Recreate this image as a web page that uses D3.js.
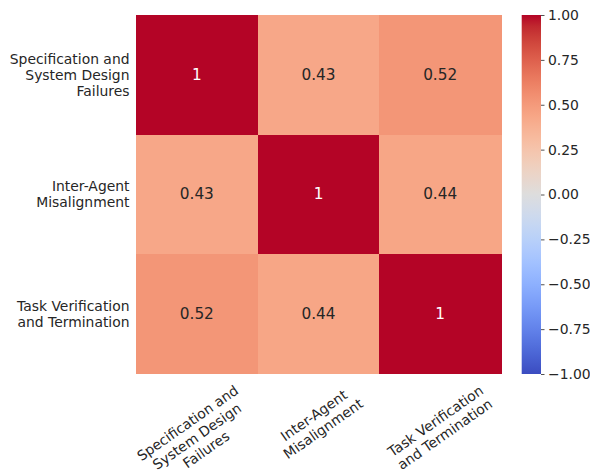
<!DOCTYPE html>
<html>
<head>
<meta charset="utf-8">
<script src="https://cdn.jsdelivr.net/npm/d3@7"></script>
<style>
  html, body { margin: 0; padding: 0; background: #fff; }
  svg { display: block; }
  text { font-family: "DejaVu Sans", sans-serif; }
</style>
</head>
<body>
<svg id="chart" width="590" height="470"></svg>
<script>
// ---- data ----
const categories = [
  "Specification and\nSystem Design\nFailures",
  "Inter-Agent\nMisalignment",
  "Task Verification\nand Termination"
];
const row0 = [1.00, 0.43, 0.52];
const row1 = [0.43, 1.00, 0.44];
const row2 = [0.52, 0.44, 1.00];
const matrix = [row0, row1, row2];
const cbarTicks = [1.00, 0.75, 0.50, 0.25, 0.00, -0.25, -0.50, -0.75, -1.00];

// coolwarm colormap stops (style, not data)
const coolwarmStops = [
  [59,76,192],[68,90,204],[77,104,215],[87,117,225],[98,130,234],[108,142,241],
  [119,154,247],[130,165,251],[141,176,254],[152,185,255],[163,194,255],[174,201,253],
  [184,208,249],[194,213,244],[204,217,238],[213,219,230],[221,221,221],[229,216,209],
  [236,211,197],[241,204,184],[245,196,172],[247,187,159],[247,177,147],[247,166,134],
  [244,154,123],[241,141,111],[236,127,99],[229,112,88],[222,96,77],[213,80,66],
  [203,62,56],[192,40,47],[180,4,38]
].map(c => d3.rgb(c[0], c[1], c[2]).formatHex());
const cmap = d3.scaleLinear()
  .domain(coolwarmStops.map((_, i) => i / (coolwarmStops.length - 1)))
  .range(coolwarmStops)
  .interpolate(d3.interpolateRgb)
  .clamp(true);
const norm = d3.scaleLinear().domain([-1, 1]).range([0, 1]);
const color = v => cmap(norm(v));

// ---- layout ----
const svg = d3.select("#chart");
const mLeft = 136, mRight = 501, mTop = 15, mBottom = 373.5;
const fs = 13.9;
const annFs = 15.3;
const textColor = "#262626";

const x = d3.scaleBand().domain(d3.range(categories.length)).range([mLeft, mRight]);
const y = d3.scaleBand().domain(d3.range(categories.length)).range([mTop, mBottom]);

const cells = [];
matrix.forEach((r, i) => r.forEach((v, j) => cells.push({i, j, v})));

svg.append("g").selectAll("rect").data(cells).join("rect")
  .attr("x", d => x(d.j))
  .attr("y", d => y(d.i))
  .attr("width", x.bandwidth() + 0.5)
  .attr("height", y.bandwidth() + 0.5)
  .attr("fill", d => color(d.v))
  .attr("shape-rendering", "crispEdges");

const fmtAnn = v => (v === 1 ? "1" : d3.format(".2")(v));
svg.append("g").selectAll("text").data(cells).join("text")
  .attr("x", d => x(d.j) + x.bandwidth() / 2)
  .attr("y", d => y(d.i) + y.bandwidth() / 2)
  .attr("text-anchor", "middle")
  .attr("dominant-baseline", "central")
  .attr("font-size", annFs)
  .attr("fill", d => (d3.hsl(color(d.v)).l < 0.45 ? "#ffffff" : textColor))
  .text(d => fmtAnn(d.v));

// ---- y labels ----
const lh = 16.2;
const yl = svg.append("g");
categories.forEach((c, i) => {
  const lines = c.split("\n");
  const cy = y(i) + y.bandwidth() / 2;
  const t = yl.append("text")
    .attr("text-anchor", "end")
    .attr("font-size", fs)
    .attr("fill", textColor);
  lines.forEach((ln, k) => {
    t.append("tspan")
      .attr("x", 129.5)
      .attr("y", cy - (lines.length * lh) / 2 + (k + 0.5) * lh)
      .attr("dominant-baseline", "central")
      .text(ln);
  });
});

// ---- x labels (rotated 35deg, centered, top aligned) ----
const ang = 35 * Math.PI / 180;
const xlTop = 382;
const xl = svg.append("g");
categories.forEach((c, j) => {
  const lines = c.split("\n");
  const g = xl.append("g");
  const t = g.append("text")
    .attr("text-anchor", "middle")
    .attr("font-size", fs)
    .attr("fill", textColor);
  const tspans = lines.map((ln, k) =>
    t.append("tspan")
      .attr("x", 0)
      .attr("y", -(lines.length * lh) / 2 + (k + 0.5) * lh)
      .attr("dominant-baseline", "central")
      .text(ln));
  const w = d3.max(tspans, s => s.node().getComputedTextLength());
  const h = lines.length * lh;
  const H = w * Math.sin(ang) + h * Math.cos(ang);
  const cx = x(j) + x.bandwidth() / 2;
  g.attr("transform", `translate(${cx},${xlTop + H / 2}) rotate(-35)`);
});

// ---- colorbar ----
const cbX = 521.7, cbW = 19.3;
const cs = d3.scaleLinear().domain([-1, 1]).range([374, 15]);
const defs = svg.append("defs");
const grad = defs.append("linearGradient")
  .attr("id", "cw").attr("x1", 0).attr("y1", 1).attr("x2", 0).attr("y2", 0);
coolwarmStops.forEach((c, i) => {
  grad.append("stop")
    .attr("offset", i / (coolwarmStops.length - 1))
    .attr("stop-color", c);
});
svg.append("rect")
  .attr("x", cbX).attr("y", cs(1))
  .attr("width", cbW).attr("height", cs(-1) - cs(1))
  .attr("fill", "url(#cw)");

const axis = d3.axisRight(cs)
  .tickValues(cbarTicks)
  .tickSize(3.5)
  .tickPadding(3.5)
  .tickFormat(v => d3.format(".2f")(v).replace("-", "\u2212"));
const ag = svg.append("g")
  .attr("transform", `translate(${cbX + cbW},0)`)
  .call(axis);
ag.select(".domain").remove();
ag.selectAll(".tick line").attr("stroke", textColor).attr("stroke-width", 0.8);
ag.selectAll(".tick text")
  .attr("font-size", fs)
  .attr("font-family", "DejaVu Sans, sans-serif")
  .attr("fill", textColor);
</script>
</body>
</html>
